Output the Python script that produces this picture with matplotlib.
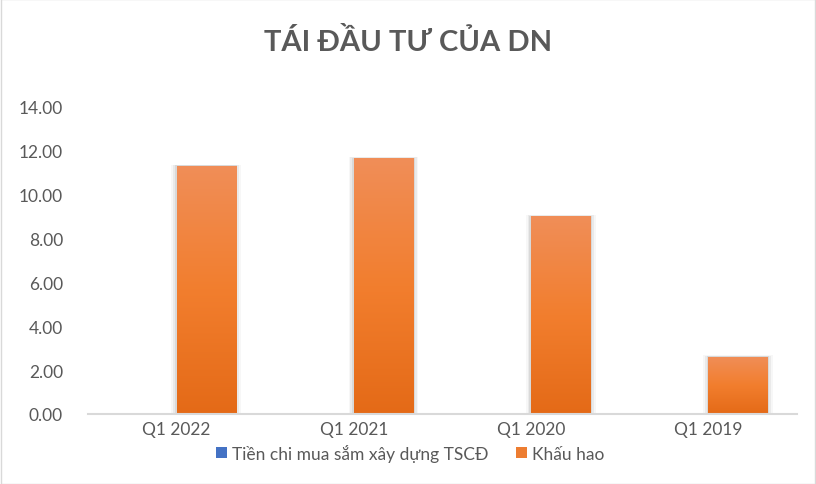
import numpy as np
import matplotlib.pyplot as plt
from matplotlib.colors import LinearSegmentedColormap

plt.rcParams['font.family'] = ['Lato', 'DejaVu Sans']

categories = ['Q1 2022', 'Q1 2021', 'Q1 2020', 'Q1 2019']
tien_chi = [0.0, 0.0, 0.0, 0.0]
khau_hao = [11.28, 11.63, 9.0, 2.6]
series_names = ['Tiền chi mua sắm xây dựng TSCĐ', 'Khấu hao']

grey = '#595959'
fig = plt.figure(figsize=(8.16, 4.85), dpi=100)
ax = fig.add_axes([88 / 816, 70 / 485, 709 / 816, 308 / 485])

x = np.arange(len(categories))
w = 1 / 3
b1 = ax.bar(x - w / 2, tien_chi, w, color='#4472C4', label=series_names[0])
b2 = ax.bar(x + w / 2, khau_hao, w, color='#ED7D31', label=series_names[1])

# gradient fill + soft shadow like the Excel style
grad = LinearSegmentedColormap.from_list('g', ['#E46A17', '#F27E2E', '#F08E58'])
for r in b2:
    bx, by, bw, bh = r.get_x(), r.get_y(), r.get_width(), r.get_height()
    for i, a in enumerate([0.03, 0.05, 0.07]):
        d = 0.01 * (3 - i)
        ax.add_patch(plt.Rectangle((bx - d, by), bw + 2 * d, bh + 0.02 * (3 - i),
                                   color='black', alpha=a, lw=0, zorder=1))
    img = ax.imshow(np.linspace(0, 1, 256).reshape(-1, 1), cmap=grad, aspect='auto',
                    extent=(bx, bx + bw, by, by + bh), origin='lower', zorder=2)
    img.set_clip_path(r)

ax.set_xlim(-0.5, 3.5)
ax.set_ylim(0, 14)
ax.set_yticks(np.arange(0, 15, 2))
ax.set_yticklabels([f'{v:.2f}' for v in np.arange(0, 15, 2)])
ax.set_xticks(x)
ax.set_xticklabels(categories)
ax.tick_params(axis='both', length=0, labelsize=12.5, colors=grey)
ax.tick_params(axis='y', pad=18)
ax.tick_params(axis='x', pad=5)
for s in ['top', 'right', 'left']:
    ax.spines[s].set_visible(False)
ax.spines['bottom'].set_color('#D9D9D9')
ax.spines['bottom'].set_linewidth(1.5)

fig.text(0.5, 1 - 42 / 485, 'TÁI ĐẦU TƯ CỦA DN', ha='center', va='center',
         fontsize=21, fontweight='bold', color=grey)

leg = fig.legend(handles=[b1, b2], loc='center', bbox_to_anchor=(0.503, 1 - 454 / 485),
                 ncol=2, frameon=False, fontsize=12.5, handlelength=0.6, handleheight=0.6,
                 columnspacing=1.6, handletextpad=0.3)
for t in leg.get_texts():
    t.set_color(grey)

fig.patches.append(plt.Rectangle((0.001, 0.001), 0.998, 0.998, transform=fig.transFigure,
                                 fill=False, edgecolor='#D9D9D9', lw=1))
fig.savefig('out.png', dpi=100)
